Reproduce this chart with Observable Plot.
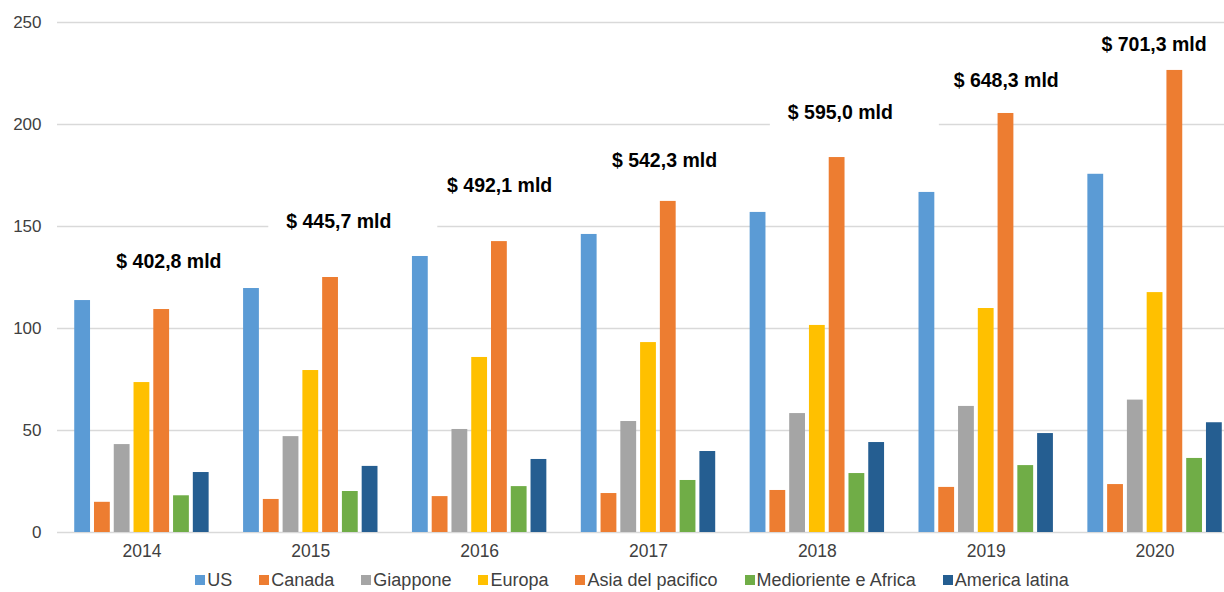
<!DOCTYPE html>
<html>
<head>
<meta charset="utf-8">
<script src="https://cdn.jsdelivr.net/npm/d3@7"></script>
<script src="https://cdn.jsdelivr.net/npm/@observablehq/plot@0.6"></script>
<style>
html, body { margin: 0; padding: 0; background: #fff; overflow: hidden; width: 1224px; height: 592px; }
#wrap { position: relative; width: 1224px; height: 592px; overflow: hidden; font-family: "Liberation Sans", Arial, sans-serif; }
#wrap svg { position: absolute; left: 0; top: 0; max-width: none !important; }
#legend { position: absolute; left: 0; top: 570px; width: 1224px; box-sizing: border-box; padding-left: 40px;
  display: flex; justify-content: center; gap: 27px; font-size: 18px; color: #404040; line-height: 20px; white-space: nowrap; }
#legend .item { display: flex; align-items: center; gap: 2px; }
#legend .sw { width: 10px; height: 10px; display: inline-block; }
</style>
</head>
<body>
<div id="wrap"></div>
<script>
// ---- data ----
const years = ["2014", "2015", "2016", "2017", "2018", "2019", "2020"];
const series = ["US", "Canada", "Giappone", "Europa", "Asia del pacifico", "Medioriente e Africa", "America latina"];
const seriesColors = ["#5B9BD5", "#ED7D31", "#A5A5A5", "#FFC000", "#ED7D31", "#70AD47", "#255E91"];
const US = [113.7, 119.6, 135.3, 146.1, 156.9, 166.7, 175.6];
const Canada = [14.8, 16.2, 17.6, 19.1, 20.6, 22.1, 23.5];
const Giappone = [43.1, 47.0, 50.5, 54.4, 58.3, 61.8, 64.9];
const Europa = [73.5, 79.4, 85.8, 93.1, 101.5, 109.8, 117.6];
const AsiaPacifico = [109.3, 125.0, 142.6, 162.3, 183.8, 205.4, 226.5];
const MediorienteAfrica = [18.0, 20.1, 22.5, 25.5, 28.9, 32.8, 36.3];
const AmericaLatina = [29.4, 32.4, 35.8, 39.7, 44.1, 48.5, 53.8];
const totals = [402.8, 445.7, 492.1, 542.3, 595.0, 648.3, 701.3];
const totalLabelHeights = [132.9, 152.5, 169.9, 182.4, 205.8, 221.6, 239.2];
const yTicks = [0, 50, 100, 150, 200, 250];

const seriesValues = [US, Canada, Giappone, Europa, AsiaPacifico, MediorienteAfrica, AmericaLatina];
const rows = years.flatMap((yr, i) => series.map((s, j) => ({year: yr, series: s, value: seriesValues[j][i]})));
const fmtTotal = v => "$ " + v.toFixed(1).replace(".", ",") + " mld";

// ---- layout / style ----
const FONT = '"Liberation Sans", Arial, sans-serif';
const common = {
  width: 1240, height: 566,
  marginLeft: 57, marginRight: 1, marginTop: 22, marginBottom: 34,
  y: {domain: [0, 250], axis: null}
};
const labelDx = {"2014": 27, "2015": 28, "2016": 20, "2017": 16, "2018": 23, "2019": 20, "2020": -1};
const boxSymbol = {draw(context) { context.rect(-84.5, -14, 169, 30); }};

const wrap = document.getElementById("wrap");

// background: gridlines + y axis
const gridPlot = Plot.plot({
  ...common,
  style: {background: "white", fontFamily: FONT, maxWidth: "none"},
  marks: [
    Plot.ruleY(yTicks, {stroke: "#d9d9d9", strokeWidth: 1.3}),
    Plot.axisY(yTicks, {tickSize: 0, tickPadding: 16, fontSize: 17, fill: "#404040", label: null})
  ]
});
wrap.appendChild(gridPlot);

// foreground: bars, year axis, totals
const annotationMarks = years.flatMap((yr, i) => {
  const d = [{year: yr, h: totalLabelHeights[i], label: fmtTotal(totals[i])}];
  return [
    Plot.dot(d, {fx: "year", y: "h", symbol: boxSymbol, fill: "white", stroke: "none", dx: labelDx[yr] + 14}),
    Plot.text(d, {fx: "year", y: "h", text: "label", dx: labelDx[yr], fontWeight: "bold", fontSize: 19.5, fill: "#000"})
  ];
});

const barPlot = Plot.plot({
  ...common,
  style: {background: "none", fontFamily: FONT, maxWidth: "none"},
  fx: {domain: years, paddingInner: 0.204, paddingOuter: 0.102, round: false, axis: null, label: null},
  x: {domain: series, paddingInner: 0.2, paddingOuter: 0, round: false, axis: null},
  color: {domain: series, range: seriesColors},
  marks: [
    ...annotationMarks,
    Plot.barY(rows, {fx: "year", x: "series", y: "value", fill: "series"}),
    Plot.axisFx({anchor: "bottom", tickSize: 0, tickPadding: 12, fontSize: 17.5, fill: "#404040", label: null})
  ]
});
wrap.appendChild(barPlot);

// legend
const legend = document.createElement("div");
legend.id = "legend";
series.forEach((s, i) => {
  const item = document.createElement("span");
  item.className = "item";
  const sw = document.createElement("span");
  sw.className = "sw";
  sw.style.background = seriesColors[i];
  const t = document.createElement("span");
  t.textContent = s;
  item.appendChild(sw);
  item.appendChild(t);
  legend.appendChild(item);
});
wrap.appendChild(legend);
</script>
</body>
</html>
